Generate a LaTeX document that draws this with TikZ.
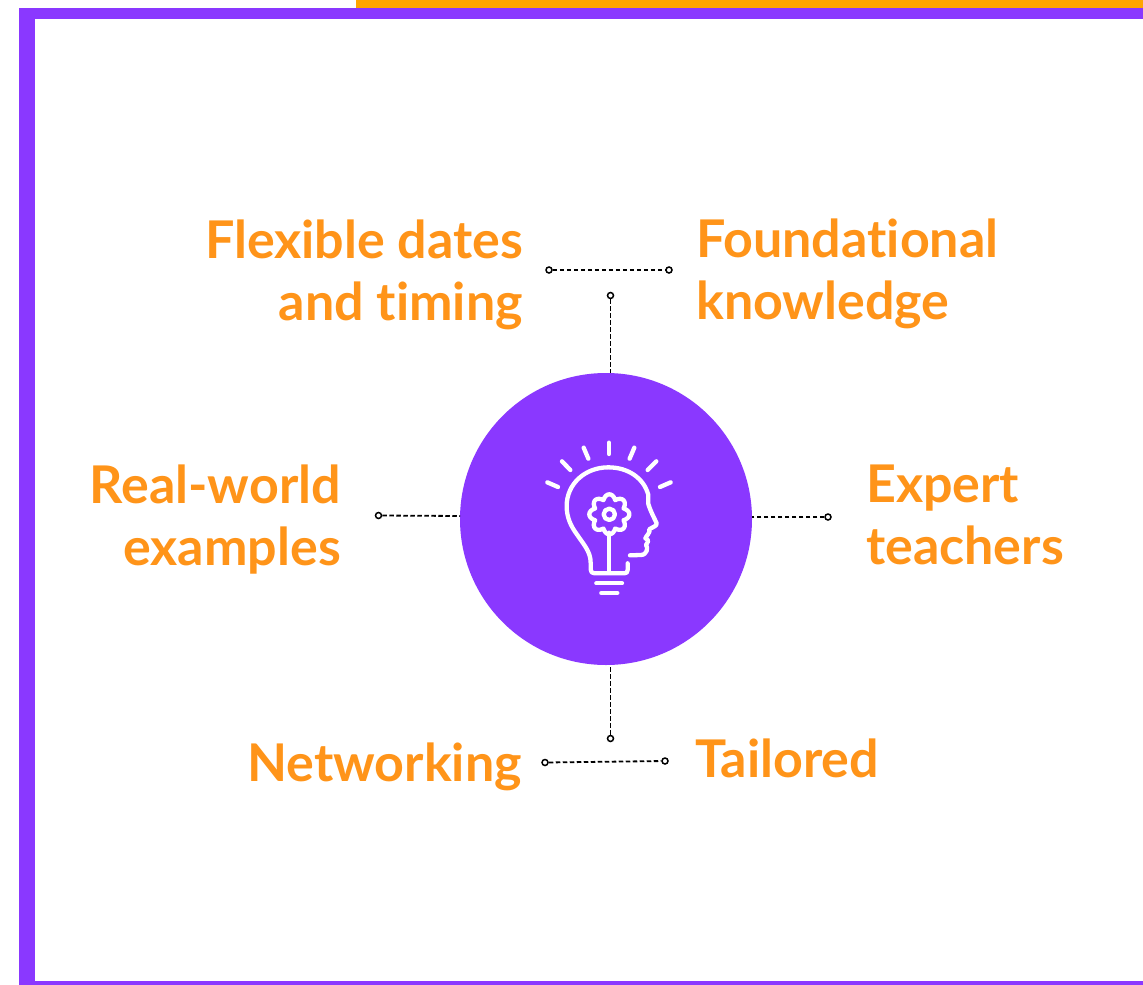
\documentclass[tikz,border=0pt]{standalone}
\usepackage{fontspec}
\setmainfont{Lato}[UprightFont=* Bold,Ligatures=NoCommon]
\definecolor{vio}{HTML}{8A38FF}
\definecolor{topor}{HTML}{FFA500}
\definecolor{txtor}{HTML}{FF9419}
\tikzset{
 lab/.style={text=txtor,font=\fontsize{52}{62}\selectfont,inner sep=0pt},
 dot/.style={circle,draw=black,fill=white,line width=1.5pt,minimum size=6pt,inner sep=0pt},
 conn/.style={draw=black,line width=1.8pt,dash pattern=on 4.5pt off 2.5pt},
 ico/.style={draw=white,line width=4.3pt,line cap=round,line join=round},
}
\begin{document}
\begin{tikzpicture}[x=1pt,y=-1pt]
\useasboundingbox (0,0) rectangle (1143,985);
\fill[white] (0,0) rectangle (1143,985);
\fill[topor] (356,0) rectangle (1143,8);
\fill[vio] (19,8) rectangle (1143,985);
\fill[white] (35,19) rectangle (1143,981);
\node[circle,fill=vio,minimum size=292pt,inner sep=0pt] (hub) at (606,519) {};
% labels
\node[lab,align=right,anchor=north east] (flex) at (523,220) {Flexible dates\\and timing};
\node[lab,align=left,anchor=north west] (found) at (696,219) {Foundational\\knowledge};
\node[lab,align=right,anchor=north east] (real) at (341,465) {Real-world\\examples};
\node[lab,align=left,anchor=north west] (exp) at (866,465) {Expert\\teachers};
\node[lab,anchor=base east] (net) at (522,781) {Networking};
\node[lab,anchor=base west] (tail) at (695,777) {Tailored};
% dots
\node[dot] (a1) at (549,270) {};
\node[dot] (a2) at (669,270) {};
\node[dot] (b) at (610.5,295.5) {};
\node[dot] (c) at (378.5,515.5) {};
\node[dot] (d) at (828,517) {};
\node[dot] (e) at (610.5,738.5) {};
\node[dot] (f1) at (545,762.5) {};
\node[dot] (f2) at (665,761) {};
\coordinate (hubt) at (610.5,373);
\coordinate (hubb) at (610.5,665);
\coordinate (hubl) at (460,516);
\coordinate (hubr) at (752,517);
\draw[conn] (a1) -- (a2);
\draw[conn] (b) -- (hubt);
\draw[conn] (c) -- (hubl);
\draw[conn] (d) -- (hubr);
\draw[conn] (e) -- (hubb);
\draw[conn] (f1) -- (f2);
% icon
\begin{scope}[shift={(520,430)},x=0.3333pt,y=-0.3333pt]
\draw[ico] (267,38)--(267,72);
\draw[ico] (191,53)--(205,86);
\draw[ico] (343,53)--(329,86);
\draw[ico] (126,94)--(151,120);
\draw[ico] (409,94)--(383,120);
\draw[ico] (82,157)--(114,171);
\draw[ico] (452,157)--(420,171);
% head
\draw[ico] (323,400)--(323,420) .. controls (323,427) and (319,430) .. (313,430)
 --(224,430) .. controls (216,430) and (212,426) .. (212,418)
 --(212,398) .. controls (212,365) and (190,342) .. (172,315)
 .. controls (152,288) and (140,262) .. (140,228)
 .. controls (140,162) and (195,112) .. (265,112)
 .. controls (325,112) and (372,145) .. (385,195)
 --(385,222) .. controls (392,245) and (402,262) .. (410,280)
 .. controls (412,288) and (396,292) .. (388,298)
 .. controls (392,308) and (378,318) .. (376,325)
 .. controls (392,330) and (380,340) .. (378,345)
 .. controls (385,352) and (382,375) .. (362,375)
 --(330,376);
% stem
\draw[ico] (268,308)--(268,428);
% gear
\draw[ico] (268,253) circle[radius=17];
\begin{scope}[shift={(268,253)}]
\draw[ico] plot[domain=0:360,samples=145] (\x:{46+14*abs(cos(4*\x))}) -- cycle;
\end{scope}
% base
\draw[ico] (229,460)--(306,460);
\draw[ico] (244,489)--(292,489);
\end{scope}
\end{tikzpicture}
\end{document}
